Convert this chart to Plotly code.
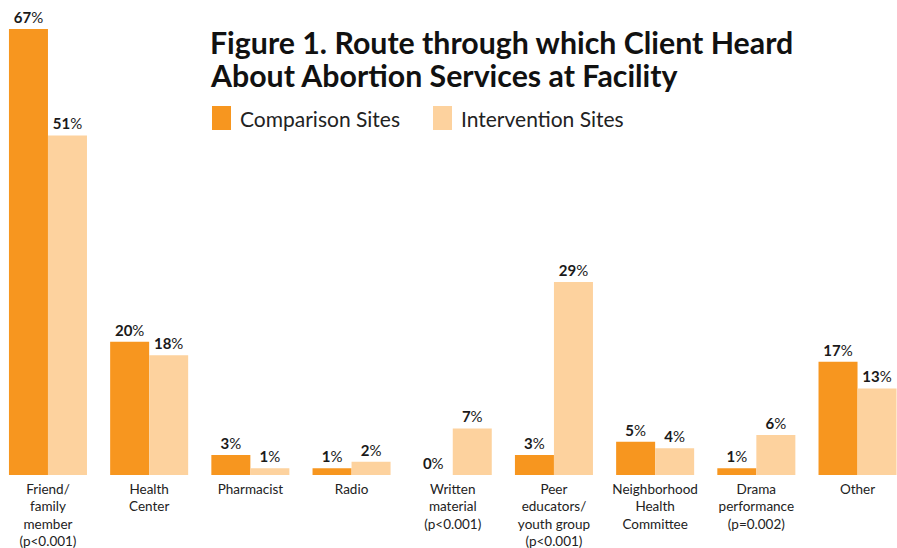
import plotly.graph_objects as go

categories = ["Friend/<br>family<br>member<br>(p<0.001)", "Health<br>Center", "Pharmacist", "Radio",
              "Written<br>material<br>(p<0.001)", "Peer<br>educators/<br>youth group<br>(p<0.001)",
              "Neighborhood<br>Health<br>Committee", "Drama<br>performance<br>(p=0.002)", "Other"]
comparison = [67, 20, 3, 1, 0, 3, 5, 1, 17]
intervention = [51, 18, 1, 2, 7, 29, 4, 6, 13]
series_names = ["Comparison Sites", "Intervention Sites"]
title_lines = ["Figure 1. Route through which Client Heard", "About Abortion Services at Facility"]
colors = ["#F7961F", "#FDD29E"]

FONT = "Lato"
fig = go.Figure()
for name, vals, col in zip(series_names, [comparison, intervention], colors):
    fig.add_trace(go.Bar(
        x=list(range(len(categories))), y=vals, name=name, marker=dict(color=col, line=dict(width=0)),
        texttemplate="<b>%{y}</b>%", textposition="outside", cliponaxis=False,
        textfont=dict(family=FONT, size=15, color="#1a1a1a"), showlegend=False,
    ))

fig.update_layout(
    width=897, height=548, barmode="group", bargap=0.229, bargroupgap=0,
    margin=dict(l=0, r=0, t=0, b=73, autoexpand=False), plot_bgcolor="white", paper_bgcolor="white",
    font=dict(family=FONT, color="#222"),
    xaxis=dict(range=[-0.474, 8.39], tickmode="array", tickvals=list(range(len(categories))),
               ticktext=categories, showgrid=False, zeroline=False, showline=False, ticks="",
               automargin=False, ticklabelstandoff=4,
               tickfont=dict(family=FONT, size=13.5, color="#222")),
    yaxis=dict(range=[0, 71.35], visible=False, automargin=False),
)

for i, (line, yc) in enumerate(zip(title_lines, [42, 75])):
    fig.add_annotation(xref="paper", yref="paper", x=208/897, y=1-yc/475, xanchor="left", yanchor="middle",
                       align="left", showarrow=False, text="<b>" + line + "</b>",
                       font=dict(family=FONT, size=30.3, color="#111"))

leg_x = [212, 433]
for lx, name, col in zip(leg_x, series_names, colors):
    fig.add_shape(type="rect", xref="paper", yref="paper", x0=lx/897, x1=(lx+19)/897,
                  y0=1-130/475, y1=1-106/475, fillcolor=col, line=dict(width=0))
    fig.add_annotation(xref="paper", yref="paper", x=(lx+26)/897, y=1-118/475, xanchor="left",
                       yanchor="middle", showarrow=False, text=name,
                       font=dict(family=FONT, size=21, color="#222"))

fig.write_html("out.html", config={"displayModeBar": False},
               post_script="document.body.style.margin='0';")
